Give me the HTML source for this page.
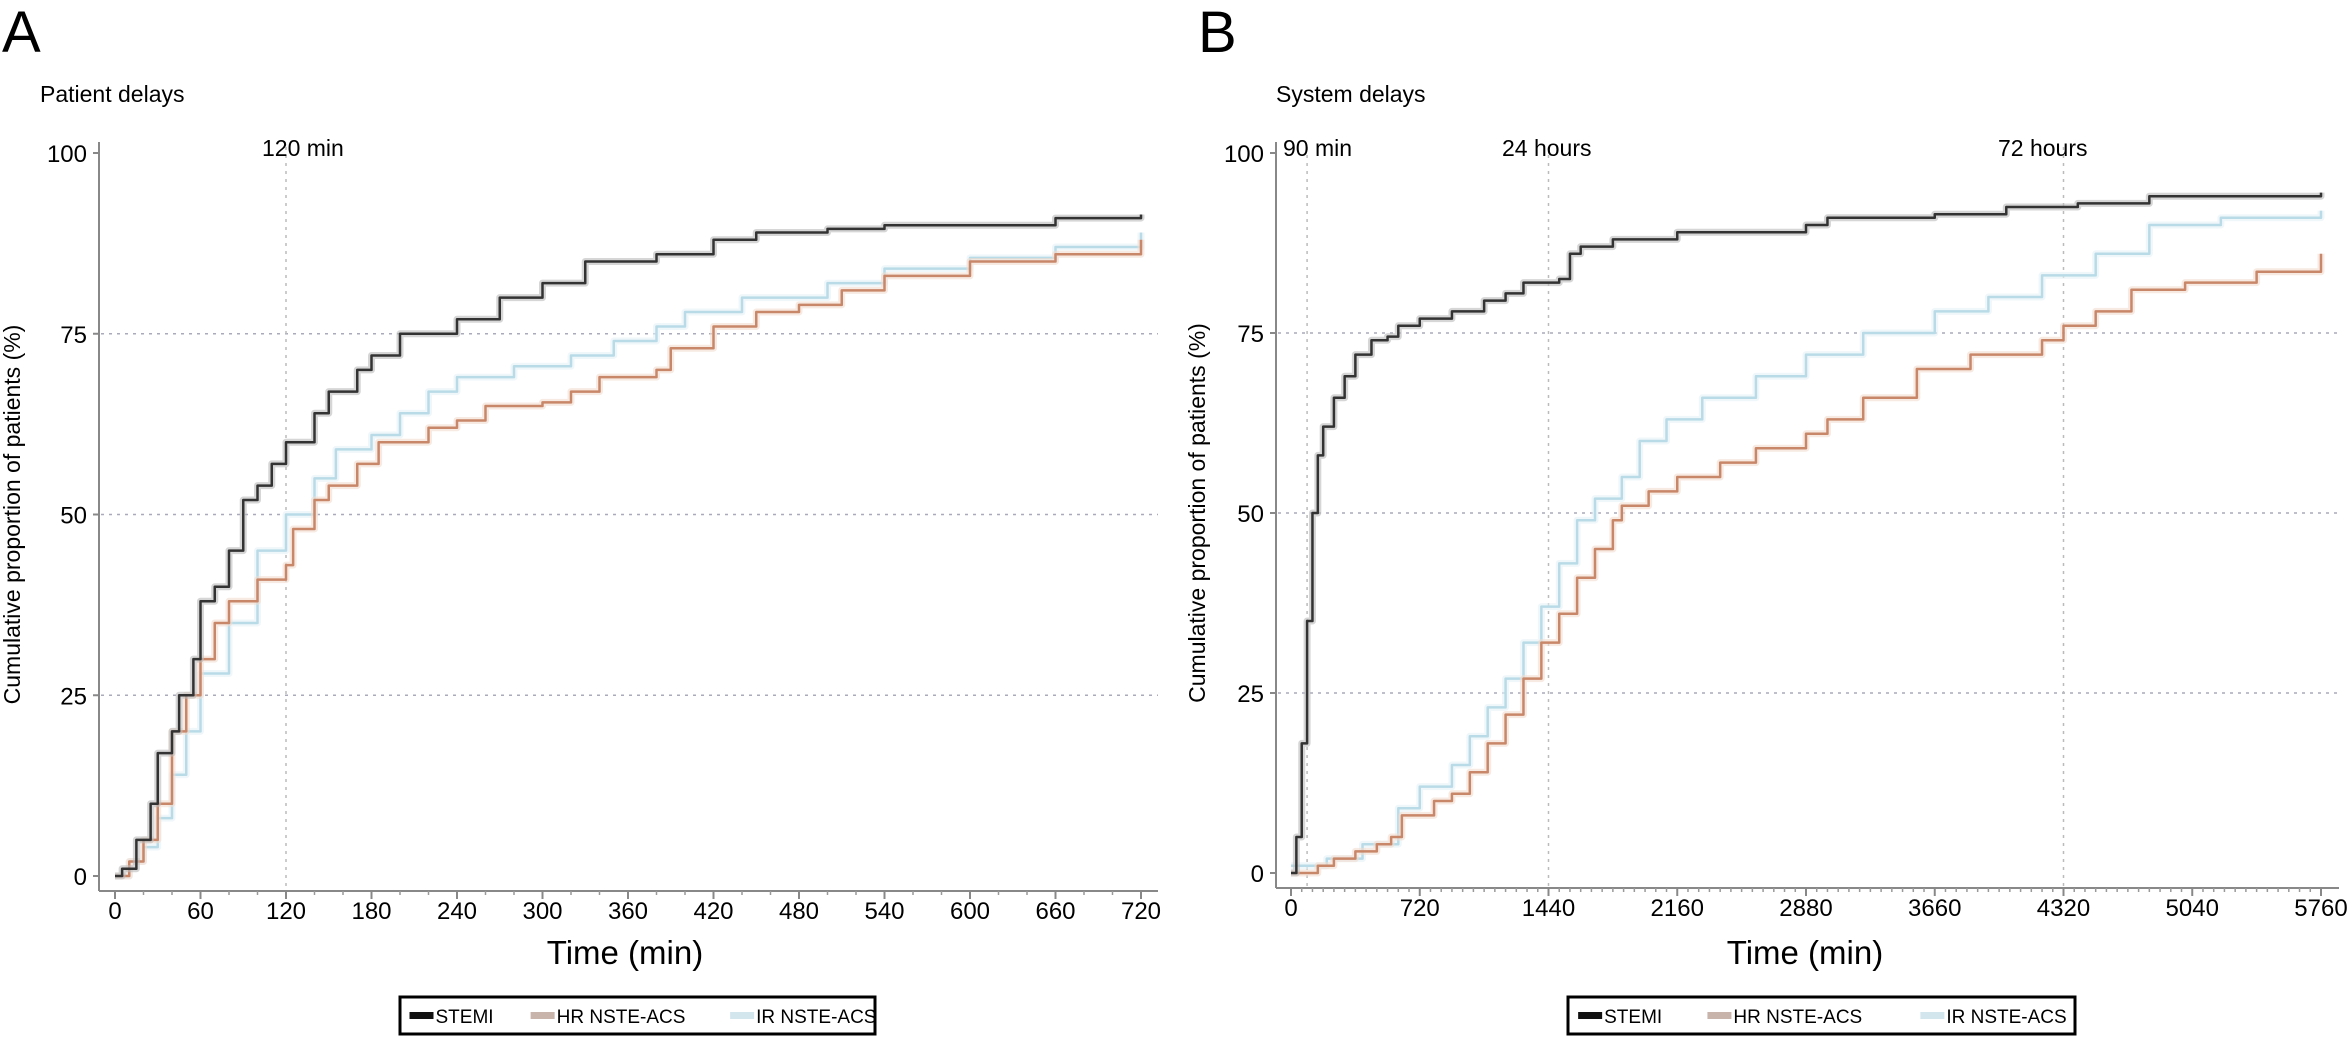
<!DOCTYPE html>
<html><head><meta charset="utf-8"><style>
html,body{margin:0;padding:0;background:#fff;}
svg{display:block;font-family:"Liberation Sans",sans-serif;}
</style></head><body>
<svg id="fig" width="2348" height="1037" viewBox="0 0 2348 1037"></svg>
<script>
// Panel A data (time in min, cumulative %)
const aStemiT=[0,5,15,25,30,40,45,55,60,70,80,90,100,110,120,140,150,170,180,200,240,270,300,330,380,420,450,500,540,600,660,720];
const aStemiV=[0,1,5,10,17,20,25,30,38,40,45,52,54,57,60,64,67,70,72,75,77,80,82,85,86,88,89,89.5,90,90,91,91.5];
const aHrT=[0,10,20,30,40,50,60,70,80,100,120,125,140,150,170,185,220,240,260,300,320,340,380,390,420,450,480,510,540,600,660,720];
const aHrV=[0,2,5,10,20,25,30,35,38,41,43,48,52,54,57,60,62,63,65,65.5,67,69,70,73,76,78,79,81,83,85,86,88];
const aIrT=[0,10,20,30,40,50,60,80,100,120,140,155,180,200,220,240,280,320,350,380,400,440,500,540,600,660,720];
const aIrV=[0,2,4,8,14,20,28,35,45,50,55,59,61,64,67,69,70.5,72,74,76,78,80,82,84,85.5,87,89];
const aTicks=[0,60,120,180,240,300,360,420,480,540,600,660,720];
// Panel B data
const bStemiT=[0,30,60,90,120,150,180,240,300,360,450,540,600,720,900,1080,1200,1300,1500,1560,1620,1800,2160,2880,3000,3600,4000,4400,4800,5760];
const bStemiV=[0,5,18,35,50,58,62,66,69,72,74,74.5,76,77,78,79.5,80.5,82,82.5,86,87,88,89,90,91,91.5,92.5,93,94,94.5];
const bHrT=[0,150,240,360,480,560,620,800,900,1000,1100,1200,1300,1400,1500,1600,1700,1800,1850,2000,2160,2400,2600,2880,3000,3200,3500,3800,4200,4320,4500,4700,5000,5400,5760];
const bHrV=[0,1,2,3,4,5,8,10,11,14,18,22,27,32,36,41,45,49,51,53,55,57,59,61,63,66,70,72,74,76,78,81,82,83.5,86];
const bIrT=[0,200,400,600,720,900,1000,1100,1200,1300,1400,1500,1600,1700,1850,1950,2100,2300,2600,2880,3200,3600,3900,4200,4500,4800,5200,5760];
const bIrV=[1,2,4,9,12,15,19,23,27,32,37,43,49,52,55,60,63,66,69,72,75,78,80,83,86,90,91,92];
const bTickVals=[0,720,1440,2160,2880,3600,4320,5040,5760];
const bTickLabels=["0","720","1440","2160","2880","3660","4320","5040","5760"];
const yTicks=[0,25,50,75,100];

const NS="http://www.w3.org/2000/svg";
const svg=document.getElementById('fig');
function el(tag,attrs,parent,text){const e=document.createElementNS(NS,tag);for(const k in attrs)e.setAttribute(k,attrs[k]);if(text!==undefined)e.textContent=text;(parent||svg).appendChild(e);return e;}

function panel(cfg){
  const g=el('g',{});
  
  
  const sx=t=>cfg.x0+(t-0)/(cfg.xmax)*(cfg.x1-cfg.x0);
  const sy=v=>cfg.y0+(v/100)*(cfg.y1-cfg.y0);
  const L=el('text',{x:cfg.letterX,y:52,'font-size':58},g,cfg.letter);
  
  const st=el('text',{x:cfg.subX,y:102,'font-size':23},g,cfg.subtitle);
  
  [25,50,75].forEach(v=>{const l=el('line',{x1:cfg.axisX+2,x2:cfg.gridR,y1:sy(v),y2:sy(v),stroke:'#aab',"stroke-width":1.5,"stroke-dasharray":'3 5'},g);
    });
  cfg.refs.forEach(r=>{const l=el('line',{x1:sx(r.t),x2:sx(r.t),y1:cfg.axisTop+5,y2:cfg.axisY,stroke:'#bbb',"stroke-width":1.5,"stroke-dasharray":'3 5'},g);
    
    const tx=el('text',{x:r.lx,y:156,'font-size':23},g,r.label);
    });
  const ya=el('line',{x1:cfg.axisX,x2:cfg.axisX,y1:cfg.axisTop,y2:cfg.axisY,stroke:'#888','stroke-width':2},g);
  
  const xa=el('line',{x1:cfg.axisX,x2:cfg.gridR,y1:cfg.axisY,y2:cfg.axisY,stroke:'#888','stroke-width':2},g);
  
  yTicks.forEach(v=>{el('line',{x1:cfg.axisX-6,x2:cfg.axisX,y1:sy(v),y2:sy(v),stroke:'#888','stroke-width':2},g);
    const t=el('text',{x:cfg.axisX-12,y:sy(v)+9,'font-size':24,'text-anchor':'end'},g,String(v));
    });
  for(let t=0;t<=cfg.xmax;t+=cfg.minor){el('line',{x1:sx(t),x2:sx(t),y1:cfg.axisY,y2:cfg.axisY+4,stroke:'#999','stroke-width':1.5},g);}
  cfg.ticks.forEach((t,i)=>{el('line',{x1:sx(t),x2:sx(t),y1:cfg.axisY,y2:cfg.axisY+8,stroke:'#888','stroke-width':2},g);
    const tx=el('text',{x:sx(t),y:cfg.axisY+28,'font-size':24,'text-anchor':'middle'},g,cfg.tickLabels[i]);
    });
  const xt=el('text',{x:cfg.xTitleX,y:964,'font-size':33,'text-anchor':'middle'},g,'Time (min)');
  
  const yt=el('text',{x:0,y:0,'font-size':23,'text-anchor':'middle',transform:`translate(${cfg.yTitleX},${(cfg.y0+cfg.y1)/2}) rotate(-90)`},g,'Cumulative proportion of patients (%)');
  
  cfg.series.forEach(s=>{
    let d=`M${sx(s.t[0])},${sy(s.v[0])}`;
    for(let i=1;i<s.t.length;i++){d+=`H${sx(s.t[i])}V${sy(s.v[i])}`;}
    if(s.halo){el('path',{d:d,fill:'none',stroke:s.halo,'stroke-width':7,'stroke-linejoin':'round',opacity:0.6},g);}
    const p=el('path',{d:d,fill:'none',stroke:s.color,'stroke-width':s.w,'stroke-linejoin':'round'},g);
    
  });
  const lg=el('g',{},g);
  
  el('rect',{x:cfg.legX,y:997,width:cfg.legW,height:37,fill:'#fff',stroke:'#000','stroke-width':3},lg);
  const items=[['STEMI','#111',0.02,64],['HR NSTE-ACS','#c8b4aa',0.275,165],['IR NSTE-ACS','#d3e6ee',0.695,116]];
  items.forEach(it=>{
    const e=el('g',{},lg);
    
    const bx=cfg.legX+it[2]*cfg.legW;
    el('rect',{x:bx,y:1012,width:24,height:7,fill:it[1]},e);
    el('text',{x:bx+26,y:1023,'font-size':19},e,it[0]);
  });
}

panel({name:'panel-a-patient-delays',letter:'A',letterX:2,subtitle:'Patient delays',subX:40,
  x0:115,x1:1141,xmax:720,y0:876,y1:153,axisX:99,axisTop:142,axisY:891,gridR:1158,minor:20,
  ticks:aTicks,tickLabels:aTicks.map(String),xTitleX:625,yTitleX:20,
  refs:[{t:120,label:'120 min',lx:262}],legX:400,legW:475,
  series:[
    {name:'series-ir-nste-acs',t:aIrT,v:aIrV,color:'#b9dbe7',w:2.5,halo:'#e6f2f6'},
    {name:'series-hr-nste-acs',t:aHrT,v:aHrV,color:'#c9876a',w:2.5,halo:'#f1dccf'},
    {name:'series-stemi',t:aStemiT,v:aStemiV,color:'#333',w:2.5,halo:'#bbb'}]});
panel({name:'panel-b-system-delays',letter:'B',letterX:1198,subtitle:'System delays',subX:1276,
  x0:1291,x1:2321,xmax:5760,y0:873,y1:153,axisX:1276,axisTop:142,axisY:888,gridR:2339,minor:60,
  ticks:bTickVals,tickLabels:bTickLabels,xTitleX:1805,yTitleX:1205,
  refs:[{t:90,label:'90 min',lx:1283},{t:1440,label:'24 hours',lx:1502},{t:4320,label:'72 hours',lx:1998}],
  legX:1568,legW:507,
  series:[
    {name:'series-ir-nste-acs',t:bIrT,v:bIrV,color:'#b9dbe7',w:2.5,halo:'#e6f2f6'},
    {name:'series-hr-nste-acs',t:bHrT,v:bHrV,color:'#c9876a',w:2.5,halo:'#f1dccf'},
    {name:'series-stemi',t:bStemiT,v:bStemiV,color:'#333',w:2.5,halo:'#bbb'}]});
</script>
</body></html>
